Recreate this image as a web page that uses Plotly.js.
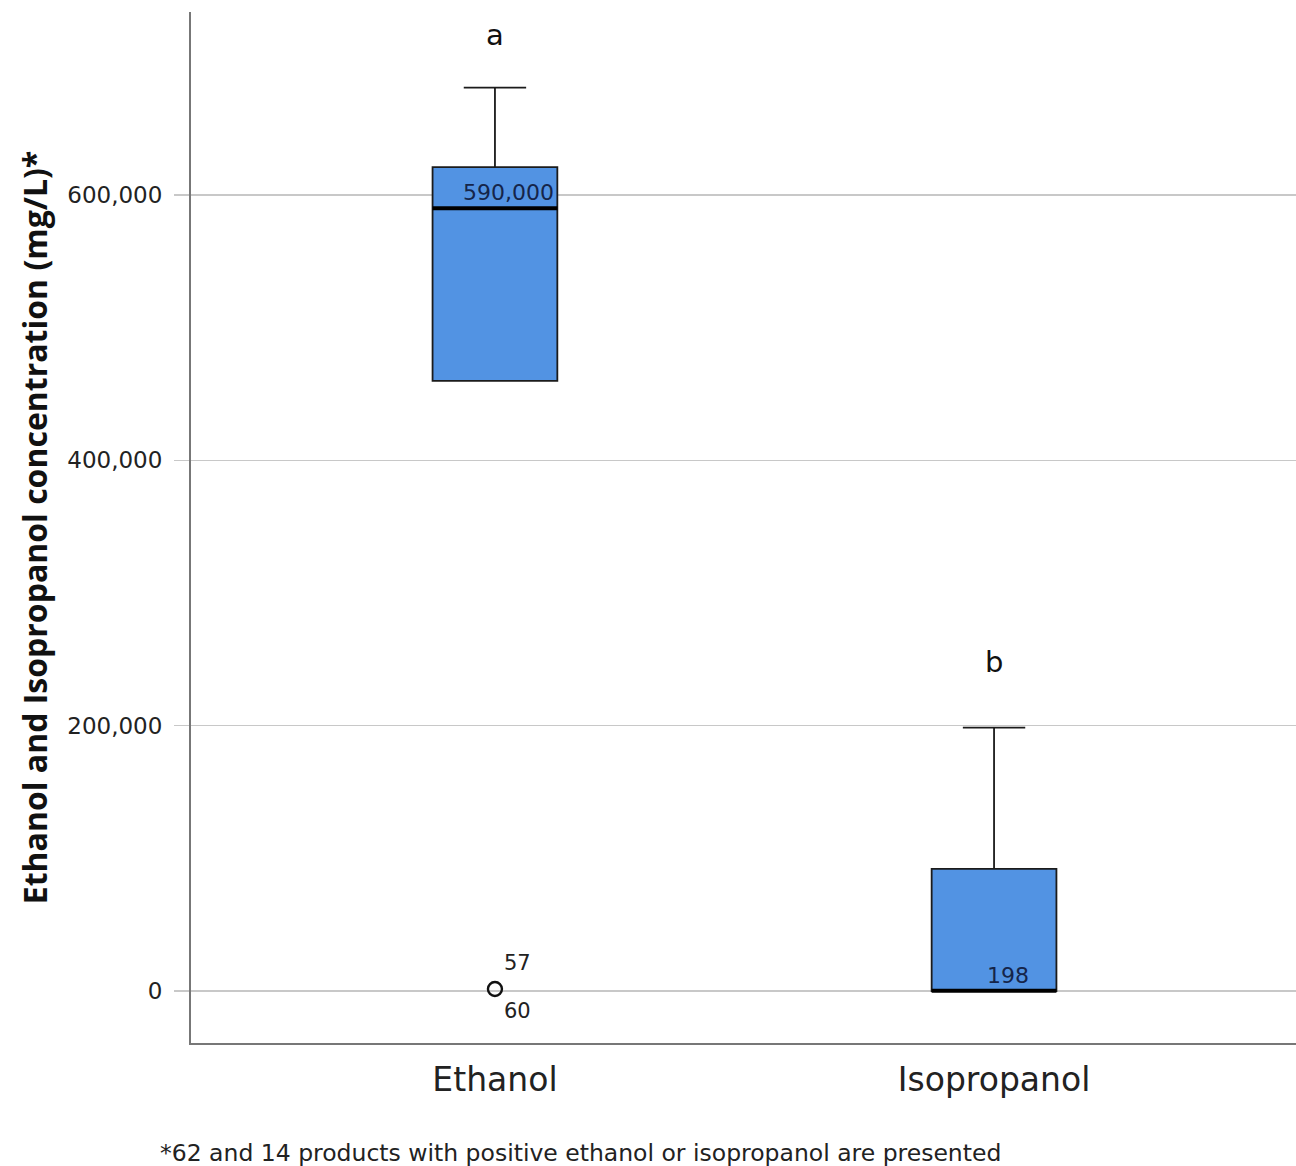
<!DOCTYPE html>
<html>
<head>
<meta charset="utf-8">
<script src="https://cdn.plot.ly/plotly-3.0.1.min.js"></script>
<style>
  html, body { margin: 0; padding: 0; background: #fff; }
  #chart { width: 1296px; height: 1166px; }
</style>
</head>
<body>
<div id="chart"></div>
<script>
// ---- data ----
const categories = ["Ethanol", "Isopropanol"];
const q1Values = [460000, 0];
const medianValues = [590000, 198];
const q3Values = [621000, 92000];
const lowerFence = [460000, 0];
const upperFence = [681000, 198500];
const medianLabels = ["590,000", "198"];
const groupLetters = ["a", "b"];
const letterY = [720500, 248000];
const outlierCategory = [0];
const outlierValues = [1500];
const outlierIds = [["57", "60"]];
const footnote = "*62 and 14 products with positive ethanol or isopropanol are presented";
const yTickVals = [0, 200000, 400000, 600000];
const yTickText = ["0", "200,000", "400,000", "600,000"];

// ---- styling ----
const boxWidth = 0.25;
const fillColor = "#5293e3";
const edgeColor = "#1b1b1b";
const positions = categories.map((c, i) => i);

const traces = [];
traces.push({
  type: "box",
  x: positions,
  q1: q1Values,
  median: medianValues,
  q3: q3Values,
  lowerfence: lowerFence,
  upperfence: upperFence,
  width: boxWidth,
  whiskerwidth: 0.5,
  fillcolor: fillColor,
  line: { color: edgeColor, width: 1.8 },
  boxpoints: false,
  hoverinfo: "skip",
  showlegend: false
});
// thick median lines
positions.forEach((p, i) => {
  traces.push({
    type: "scatter",
    mode: "lines",
    x: [p - boxWidth / 2, p + boxWidth / 2],
    y: [medianValues[i], medianValues[i]],
    line: { color: "#000", width: 4 },
    hoverinfo: "skip",
    showlegend: false
  });
});
// outliers
traces.push({
  type: "scatter",
  mode: "markers",
  x: outlierCategory,
  y: outlierValues,
  marker: { symbol: "circle-open", size: 14, color: "#111", line: { width: 2.4, color: "#111" } },
  hoverinfo: "skip",
  showlegend: false
});

const annotations = [];
positions.forEach((p, i) => {
  annotations.push({
    x: p, y: medianValues[i], xref: "x", yref: "y",
    text: medianLabels[i], showarrow: false,
    xanchor: "center", yanchor: "bottom", xshift: 14, yshift: 1,
    font: { family: "DejaVu Sans", size: 22, color: "#15254a" }
  });
  annotations.push({
    x: p, y: letterY[i], xref: "x", yref: "y",
    text: groupLetters[i], showarrow: false,
    xanchor: "center", yanchor: "middle",
    font: { family: "DejaVu Sans", size: 29, color: "#111" }
  });
});
outlierCategory.forEach((c, i) => {
  annotations.push({
    x: c, y: outlierValues[i], xref: "x", yref: "y",
    text: outlierIds[i][0], showarrow: false,
    xanchor: "left", yanchor: "middle", xshift: 7, yshift: 26,
    font: { family: "DejaVu Sans", size: 21, color: "#222" }
  });
  annotations.push({
    x: c, y: outlierValues[i], xref: "x", yref: "y",
    text: outlierIds[i][1], showarrow: false,
    xanchor: "left", yanchor: "middle", xshift: 7, yshift: -22,
    font: { family: "DejaVu Sans", size: 21, color: "#222" }
  });
});
annotations.push({
  x: 0, y: 0, xref: "paper", yref: "paper",
  text: footnote, showarrow: false,
  xanchor: "left", yanchor: "middle", xshift: -33, yshift: -110,
  font: { family: "DejaVu Sans", size: 23.5, color: "#222" }
});

const layout = {
  width: 1296,
  height: 1166,
  margin: { l: 191, r: 0, t: 12, b: 123 },
  paper_bgcolor: "#fff",
  plot_bgcolor: "#fff",
  showlegend: false,
  xaxis: {
    type: "linear",
    range: [-0.609, 1.605],
    tickvals: positions,
    ticktext: categories,
    showgrid: false,
    zeroline: false,
    showline: true,
    linecolor: "#777",
    linewidth: 2,
    ticks: "",
    ticklabelstandoff: 6,
    tickfont: { family: "DejaVu Sans", size: 33, color: "#222" }
  },
  yaxis: {
    range: [-39200, 738000],
    tickvals: yTickVals,
    ticktext: yTickText,
    showgrid: true,
    gridcolor: "#c8c8c8",
    gridwidth: 1.5,
    zeroline: false,
    showline: true,
    linecolor: "#777",
    linewidth: 2,
    ticks: "outside",
    ticklen: 15,
    tickwidth: 1.5,
    tickcolor: "#c8c8c8",
    ticklabelstandoff: 7,
    tickfont: { family: "DejaVu Sans", size: 23, color: "#222" },
    title: {
      text: "<b>Ethanol and Isopropanol concentration (mg/L)*</b>",
      font: { family: "Open Sans", size: 32, color: "#111" },
      standoff: 10
    }
  },
  annotations: annotations
};

Plotly.newPlot("chart", traces, layout, { displayModeBar: false, staticPlot: true });
</script>
</body>
</html>
